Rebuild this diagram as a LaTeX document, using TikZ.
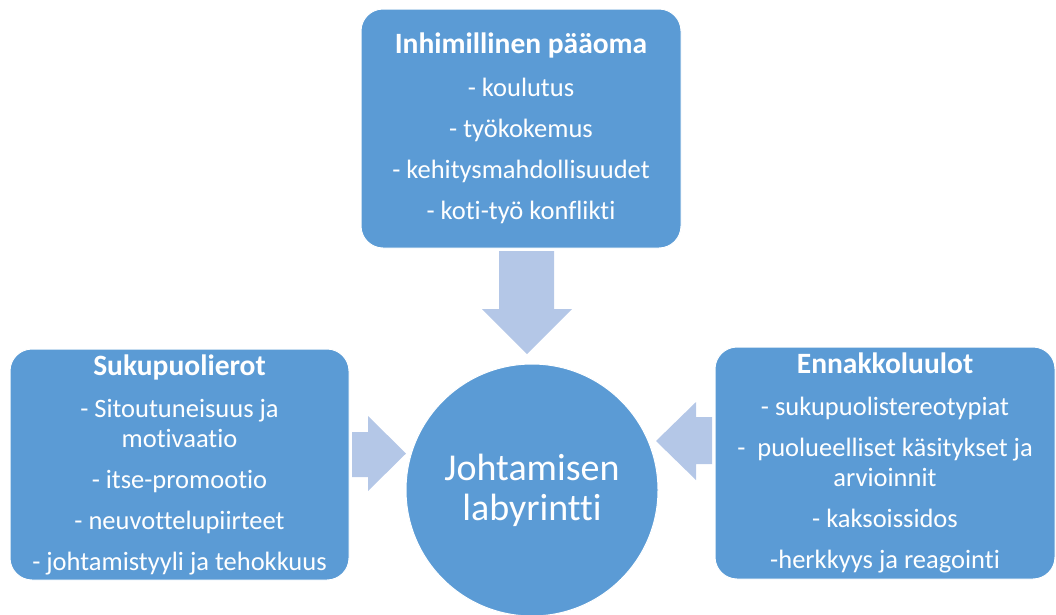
\documentclass[tikz,border=0pt]{standalone}
\usepackage{fontspec}
\setmainfont{Carlito}[Ligatures=NoCommon]
\definecolor{boxblue}{HTML}{5B9BD5}
\definecolor{arrowblue}{HTML}{B4C7E7}
\newcommand{\boxtitle}[1]{{\fontsize{29.5}{30}\selectfont\bfseries #1}}
\tikzset{
  infobox/.style={draw=white, line width=1pt, fill=boxblue, rounded corners=22pt,
    text=white, align=center, inner sep=0pt, font=\fontsize{26.5}{30}\selectfont},
  hubcircle/.style={circle, draw=white, line width=1pt, fill=boxblue, text=white,
    align=center, inner sep=0pt, font=\fontsize{38}{40}\selectfont},
  blockarrow/.style={fill=arrowblue, draw=none}
}
\begin{document}
\begin{tikzpicture}[x=1pt,y=-1pt]
\useasboundingbox (0,0) rectangle (1056,614);
% top box
\node[infobox, minimum width=320pt, minimum height=239pt] (top) at (521,128.5)
  {\boxtitle{Inhimillinen pääoma}\\[13pt]- koulutus\\[11pt]- työkokemus\\[11pt]- kehitysmahdollisuudet\\[11pt]- koti-työ konflikti};
% left box
\node[infobox, minimum width=339pt, minimum height=231pt] (left) at (179.5,464.5)
  {\boxtitle{Sukupuolierot}\\[12pt]- Sitoutuneisuus ja\\motivaatio\\[11pt]- itse-promootio\\[11pt]- neuvottelupiirteet\\[11pt]- johtamistyyli ja tehokkuus};
% right box
\node[infobox, minimum width=340pt, minimum height=232pt] (right) at (885,463)
  {\boxtitle{Ennakkoluulot}\\[12pt]- sukupuolistereotypiat\\[11pt]-\ \ puolueelliset käsitykset ja\\arvioinnit\\[11pt]- kaksoissidos\\[11pt]-herkkyys ja reagointi};
% central circle
\node[hubcircle, minimum size=252pt] (hub) at (532,490) {Johtamisen\\labyrintti};
% block arrows
\fill[blockarrow] (499,251) -- (554,251) -- (554,309) -- (572,309) -- (527,354) -- (482,309) -- (499,309) -- cycle;
\fill[blockarrow] (352,432) -- (368,432) -- (368,416) -- (406,453.5) -- (368,491) -- (368,477) -- (352,477) -- cycle;
\fill[blockarrow] (712,417) -- (696,417) -- (696,402) -- (656,441) -- (696,480) -- (696,464) -- (712,464) -- cycle;
\end{tikzpicture}
\end{document}
